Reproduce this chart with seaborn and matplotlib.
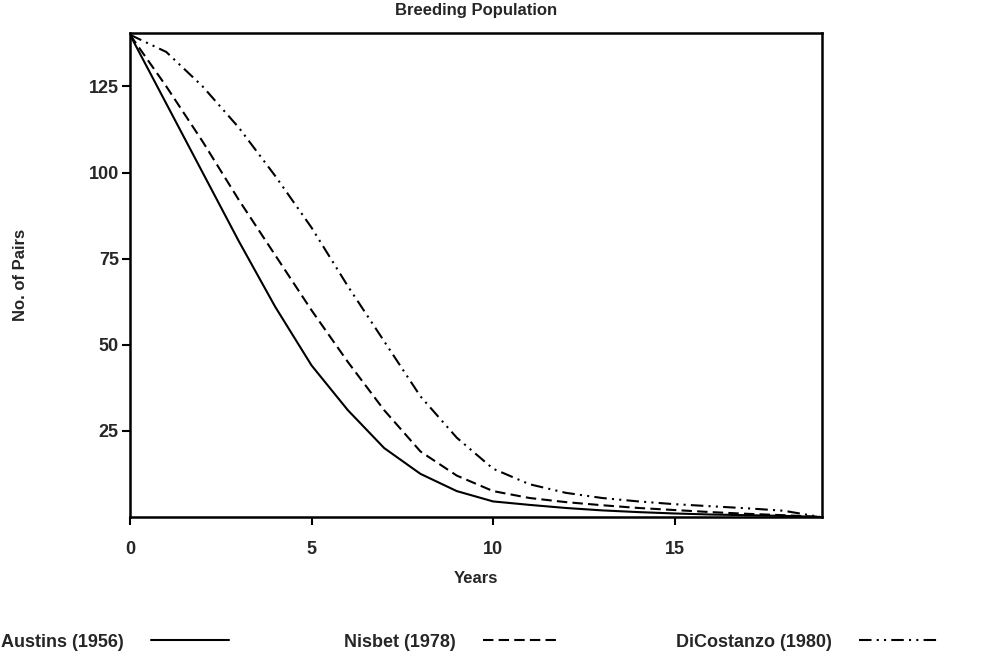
import pandas as pd
import matplotlib
matplotlib.use('Agg')
import matplotlib.pyplot as plt
import seaborn as sns

# Values (pairs per year)
years = list(range(20))
austins = [140, 120, 100, 80, 61, 44, 31, 20, 12.5, 7.5, 4.5, 3.5, 2.6, 1.9, 1.4, 1.0, 0.7, 0.5, 0.3, 0]
nisbet = [140, 125, 109, 92, 76, 60, 45, 31, 19, 12, 7.5, 5.5, 4.3, 3.4, 2.6, 2.0, 1.4, 0.9, 0.5, 0]
dicostanzo = [140, 135, 125, 113, 99, 84, 67, 51, 35, 23, 14, 9.5, 7, 5.5, 4.5, 3.7, 3.1, 2.5, 1.8, 0]
labels = ['Austins (1956)', 'Nisbet (1978)', 'DiCostanzo (1980)']

df = pd.concat([
    pd.DataFrame({'Years': years, 'Pairs': vals, 'Source': lab})
    for lab, vals in zip(labels, [austins, nisbet, dicostanzo])
])

sns.set_style('ticks')
plt.rcParams['font.family'] = ['Liberation Sans', 'DejaVu Sans']
plt.rcParams['font.weight'] = 'bold'

fig = plt.figure(figsize=(9.96, 6.67), dpi=100)
ax = fig.add_axes([0.1305, 0.225, 0.6945, 0.7255])

dashes = {labels[0]: '', labels[1]: (5, 2.5), labels[2]: (6, 2.5, 1, 2.5, 1, 2.5)}
sns.lineplot(data=df, x='Years', y='Pairs', hue='Source', style='Source',
             palette=['black'] * 3, dashes=dashes, linewidth=1.5, ax=ax)

ax.set_xlim(0, 19.05)
ax.set_ylim(0, 140.5)
ax.set_xticks([0, 5, 10, 15])
ax.set_yticks([25, 50, 75, 100, 125])
ax.tick_params(labelsize=13, length=6, width=1.5, color='black')
ax.tick_params(axis='x', pad=11)
ax.tick_params(axis='y', pad=2)
for s in ax.spines.values():
    s.set_visible(True)
    s.set_linewidth(1.8)
    s.set_color('black')

ax.set_title('Breeding Population', fontsize=12, fontweight='bold', pad=13)
ax.set_xlabel('Years', fontsize=12, fontweight='bold', labelpad=10)
ax.set_ylabel('No. of Pairs', fontsize=12, fontweight='bold', labelpad=44)

handles, labs = ax.get_legend_handles_labels()
ax.get_legend().remove()
fig.legend(handles, labs, ncol=3, loc='lower left', bbox_to_anchor=(-0.015, 0.0),
           frameon=False, markerfirst=False, handlelength=4.3, handletextpad=1.5,
           columnspacing=6.4, prop={'size': 13, 'weight': 'bold'})

fig.savefig('out.png', dpi=100)
